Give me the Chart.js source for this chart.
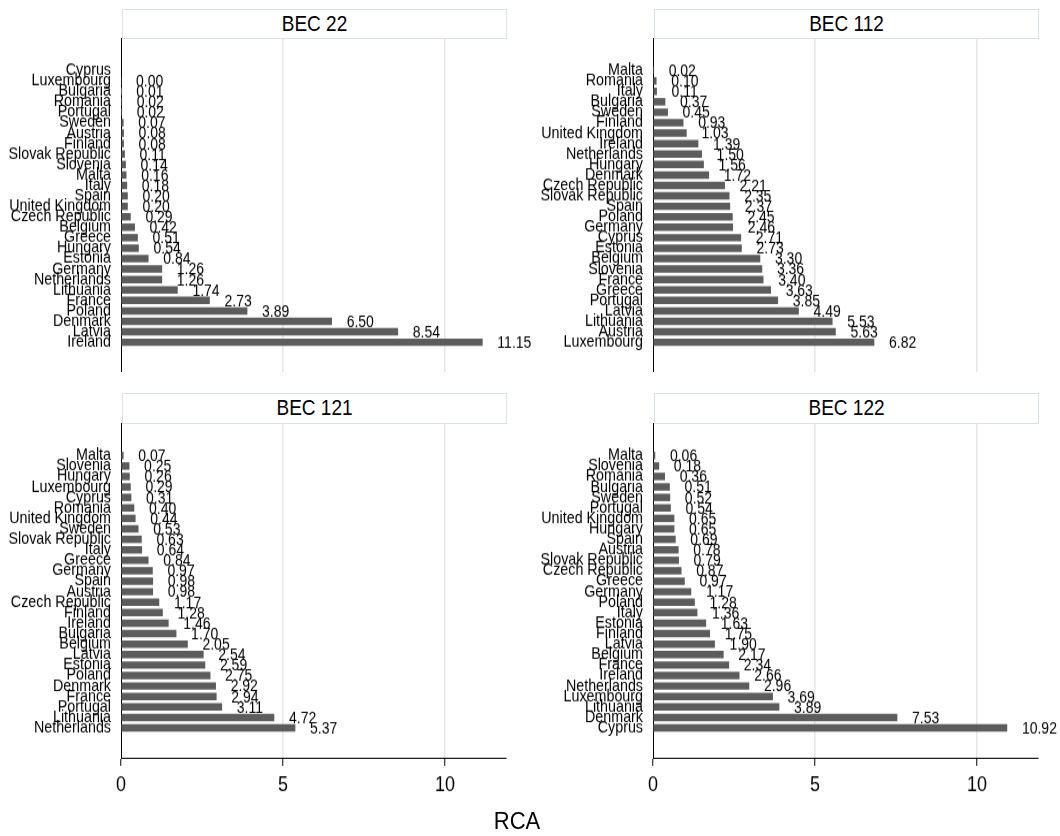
<!DOCTYPE html>
<html>
<head>
<meta charset="utf-8">
<script src="https://cdn.jsdelivr.net/npm/chart.js@4.4.1/dist/chart.umd.min.js"></script>
<style>
  html, body { margin: 0; padding: 0; background: #fff; }
  #page { position: relative; width: 1060px; height: 836px; font-family: "Liberation Sans", Arial, sans-serif; color: #000; }
  /* canvases are drawn 1.15x shorter than shown: the reference text is taller than wide */
  canvas { position: absolute; }
  .title { position: absolute; box-sizing: border-box; border: 1.5px solid #d6e4ea; background: #fff;
           display: flex; align-items: center; justify-content: center; font-size: 19px; }
  .title span, #rca span { display: inline-block; transform: scaleY(1.12); }
  #rca { position: absolute; left: 417px; width: 200px; top: 806px; line-height: 30px; text-align: center; font-size: 22px; }
</style>
</head>
<body>
<div id="page">
  <div class="title" style="left:122px; top:9px; width:385px; height:29.5px;"><span>BEC 22</span></div>
  <div class="title" style="left:654px; top:9px; width:385px; height:29.5px;"><span>BEC 112</span></div>
  <div class="title" style="left:122px; top:393px; width:385px; height:30.5px;"><span>BEC 121</span></div>
  <div class="title" style="left:654px; top:393px; width:385px; height:30.5px;"><span>BEC 122</span></div>

  <canvas id="bec22" width="540" height="290" style="left:0px; top:38px; width:540px; height:334px;"></canvas>
  <canvas id="bec112" width="528" height="290" style="left:532px; top:38px; width:528px; height:334px;"></canvas>
  <canvas id="bec121" width="540" height="359" style="left:0px; top:423px; width:540px; height:413px;"></canvas>
  <canvas id="bec122" width="528" height="359" style="left:532px; top:423px; width:528px; height:413px;"></canvas>

  <div id="rca"><span>RCA</span></div>
</div>

<script>
// RCA by country, sorted as in the picture (top to bottom)
const bec22Countries = ['Cyprus', 'Luxembourg', 'Bulgaria', 'Romania', 'Portugal', 'Sweden', 'Austria', 'Finland',
  'Slovak Republic', 'Slovenia', 'Malta', 'Italy', 'Spain', 'United Kingdom', 'Czech Republic', 'Belgium', 'Greece',
  'Hungary', 'Estonia', 'Germany', 'Netherlands', 'Lithuania', 'France', 'Poland', 'Denmark', 'Latvia', 'Ireland'];
const bec22Values = [null, 0.00, 0.01, 0.02, 0.02, 0.07, 0.08, 0.08, 0.11, 0.14, 0.16, 0.18, 0.20, 0.20, 0.29, 0.42,
  0.51, 0.54, 0.84, 1.26, 1.26, 1.74, 2.73, 3.89, 6.50, 8.54, 11.15];

const bec112Countries = ['Malta', 'Romania', 'Italy', 'Bulgaria', 'Sweden', 'Finland', 'United Kingdom', 'Ireland',
  'Netherlands', 'Hungary', 'Denmark', 'Czech Republic', 'Slovak Republic', 'Spain', 'Poland', 'Germany', 'Cyprus',
  'Estonia', 'Belgium', 'Slovenia', 'France', 'Greece', 'Portugal', 'Latvia', 'Lithuania', 'Austria', 'Luxembourg'];
const bec112Values = [0.02, 0.10, 0.11, 0.37, 0.45, 0.93, 1.03, 1.39, 1.50, 1.56, 1.72, 2.21, 2.35, 2.37, 2.45, 2.46,
  2.71, 2.73, 3.30, 3.36, 3.40, 3.63, 3.85, 4.49, 5.53, 5.63, 6.82];

const bec121Countries = ['Malta', 'Slovenia', 'Hungary', 'Luxembourg', 'Cyprus', 'Romania', 'United Kingdom', 'Sweden',
  'Slovak Republic', 'Italy', 'Greece', 'Germany', 'Spain', 'Austria', 'Czech Republic', 'Finland', 'Ireland',
  'Bulgaria', 'Belgium', 'Latvia', 'Estonia', 'Poland', 'Denmark', 'France', 'Portugal', 'Lithuania', 'Netherlands'];
const bec121Values = [0.07, 0.25, 0.26, 0.29, 0.31, 0.40, 0.44, 0.53, 0.63, 0.64, 0.84, 0.97, 0.98, 0.98, 1.17, 1.28,
  1.46, 1.70, 2.05, 2.54, 2.59, 2.75, 2.92, 2.94, 3.11, 4.72, 5.37];

const bec122Countries = ['Malta', 'Slovenia', 'Romania', 'Bulgaria', 'Sweden', 'Portugal', 'United Kingdom', 'Hungary',
  'Spain', 'Austria', 'Slovak Republic', 'Czech Republic', 'Greece', 'Germany', 'Poland', 'Italy', 'Estonia', 'Finland',
  'Latvia', 'Belgium', 'France', 'Ireland', 'Netherlands', 'Luxembourg', 'Lithuania', 'Denmark', 'Cyprus'];
const bec122Values = [0.06, 0.18, 0.36, 0.51, 0.52, 0.54, 0.65, 0.65, 0.69, 0.78, 0.79, 0.87, 0.97, 1.17, 1.28, 1.36,
  1.63, 1.75, 1.90, 2.17, 2.34, 2.66, 2.96, 3.69, 3.89, 7.53, 10.92];

const xTicks = [0, 5, 10];

const FONT = '"Liberation Sans", Arial, sans-serif';

// numbers written to the right of each bar
const valueLabels = {
  id: 'valueLabels',
  afterDatasetsDraw(chart) {
    const ctx = chart.ctx;
    const points = chart.data.datasets[0].data;
    ctx.save();
    ctx.font = '14px ' + FONT;
    ctx.fillStyle = '#000';
    ctx.textAlign = 'left';
    ctx.textBaseline = 'middle';
    chart.getDatasetMeta(0).data.forEach((bar, i) => {
      const v = points[i].x;
      if (v === null || isNaN(bar.x)) return;
      ctx.fillText(v.toFixed(2), bar.x + 15, bar.y + 1);
    });
    ctx.restore();
  }
};

function makePanel(id, countries, values, showAxis, padRight) {
  const ctx = document.getElementById(id).getContext('2d');
  return new Chart(ctx, {
    type: 'bar',
    data: {
      datasets: [{
        data: values.map((v, i) => ({ x: v, y: i })),
        backgroundColor: '#5c5c5c',
        borderWidth: 0,
        barThickness: 5.8
      }]
    },
    options: {
      indexAxis: 'y',
      responsive: false,
      animation: false,
      layout: { padding: { left: 0, right: padRight, top: 0, bottom: 0 } },
      plugins: {
        legend: { display: false },
        tooltip: { enabled: false }
      },
      scales: {
        x: {
          type: 'linear',
          min: 0,
          max: 11.88,
          afterBuildTicks: s => { s.ticks = xTicks.map(v => ({ value: v })); },
          afterFit: s => {
            s.height = showAxis ? 68 : 0;
            s.paddingLeft = 0; s.paddingRight = 0;
          },
          grid: {
            color: c => (c.tick && c.tick.value === 0) ? 'rgba(0,0,0,0)' : '#e6e6e6',
            lineWidth: 1.5,
            drawTicks: showAxis,
            tickLength: 7,
            tickColor: '#000',
            tickWidth: 1
          },
          border: { display: showAxis, color: '#000', width: 1 },
          ticks: {
            display: showAxis,
            color: '#000',
            padding: 6,
            font: { family: FONT, size: 18 }
          }
        },
        y: {
          type: 'linear',
          reverse: true,
          offset: false,
          min: -3.1,
          max: 28.85,
          afterBuildTicks: s => { s.ticks = countries.map((c, i) => ({ value: i })); },
          afterFit: s => {
            s.width = 121;
            s.paddingTop = 0; s.paddingBottom = 0;
          },
          grid: { display: false, drawTicks: false, offset: false },
          border: { display: true, color: '#000', width: 1 },
          ticks: {
            autoSkip: false,
            color: '#000',
            padding: 10,
            font: { family: FONT, size: 14.3 },
            callback: v => countries[v] ?? ''
          }
        }
      }
    },
    plugins: [valueLabels]
  });
}

makePanel('bec22', bec22Countries, bec22Values, false, 34);
makePanel('bec112', bec112Countries, bec112Values, false, 22);
makePanel('bec121', bec121Countries, bec121Values, true, 34);
makePanel('bec122', bec122Countries, bec122Values, true, 22);
</script>
</body>
</html>
